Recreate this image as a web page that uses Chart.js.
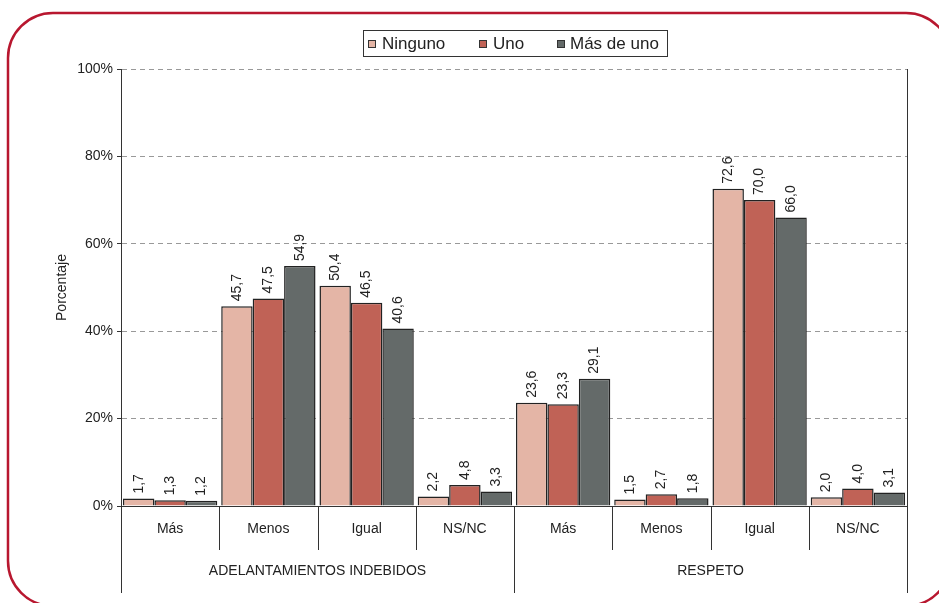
<!DOCTYPE html>
<html>
<head>
<meta charset="utf-8">
<script src="https://cdn.jsdelivr.net/npm/chart.js@4.4.0/dist/chart.umd.min.js"></script>
<style>
  html, body { margin: 0; padding: 0; background: #fff; }
  #wrap { position: relative; width: 939px; height: 603px; }
</style>
</head>
<body>
<div id="wrap"><canvas id="chart" width="939" height="603"></canvas></div>
<script>
const subCategories = ['Más', 'Menos', 'Igual', 'NS/NC', 'Más', 'Menos', 'Igual', 'NS/NC'];
const groups = ['ADELANTAMIENTOS INDEBIDOS', 'RESPETO'];
const seriesNames = ['Ninguno', 'Uno', 'Más de uno'];
const ninguno = [1.7, 45.7, 50.4, 2.2, 23.6, 1.5, 72.6, 2.0];
const uno = [1.3, 47.5, 46.5, 4.8, 23.3, 2.7, 70.0, 4.0];
const masDeUno = [1.2, 54.9, 40.6, 3.3, 29.1, 1.8, 66.0, 3.1];
const yTicks = [0, 20, 40, 60, 80, 100];

const colors = ['#e4b5a6', '#c06256', '#646a69'];
const FONT = '"Liberation Sans", Arial, Helvetica, sans-serif';
const TEXT = '#222';

// frame, legend, axis title, two-level category lines, value labels
const extras = {
  id: 'extras',
  afterDraw(chart) {
    const ctx = chart.ctx;
    const area = chart.chartArea;
    const xs = chart.scales.x;
    ctx.save();

    // rounded red frame (runs past the right and bottom edges)
    const fx = 8, fy = 13, fw = 943, fh = 593, r = 45;
    ctx.beginPath();
    ctx.moveTo(fx + r, fy);
    ctx.lineTo(fx + fw - r, fy);
    ctx.arcTo(fx + fw, fy, fx + fw, fy + r, r);
    ctx.lineTo(fx + fw, fy + fh - r);
    ctx.arcTo(fx + fw, fy + fh, fx + fw - r, fy + fh, r);
    ctx.lineTo(fx + r, fy + fh);
    ctx.arcTo(fx, fy + fh, fx, fy + fh - r, r);
    ctx.lineTo(fx, fy + r);
    ctx.arcTo(fx, fy, fx + r, fy, r);
    ctx.closePath();
    ctx.lineWidth = 2.5;
    ctx.strokeStyle = '#b8172f';
    ctx.stroke();

    // legend
    ctx.lineWidth = 1;
    ctx.strokeStyle = '#333';
    ctx.strokeRect(363.5, 30.5, 304, 26);
    const legendX = [[368, 382], [479, 493], [557, 570]];
    ctx.font = '17px ' + FONT;
    ctx.textBaseline = 'middle';
    ctx.textAlign = 'left';
    seriesNames.forEach((name, i) => {
      ctx.fillStyle = colors[i];
      ctx.fillRect(legendX[i][0], 40, 7, 7);
      ctx.strokeRect(legendX[i][0] + 0.5, 40.5, 7, 7);
      ctx.fillStyle = TEXT;
      ctx.fillText(name, legendX[i][1], 44);
    });

    // y axis title
    ctx.save();
    ctx.translate(62, (area.top + area.bottom) / 2);
    ctx.rotate(-Math.PI / 2);
    ctx.textAlign = 'center';
    ctx.font = '14px ' + FONT;
    ctx.fillText('Porcentaje', 0, 0);
    ctx.restore();

    // category separators
    const n = subCategories.length;
    const w = (area.right - area.left) / n;
    ctx.strokeStyle = '#333';
    ctx.lineWidth = 1;
    for (let i = 0; i <= n; i++) {
      const x = Math.round(area.left + i * w) + 0.5;
      const long = i % 4 === 0;
      ctx.beginPath();
      ctx.moveTo(x, i === n ? area.top : area.bottom);
      ctx.lineTo(x, long ? 593 : 550);
      ctx.stroke();
    }
    ctx.font = '14px ' + FONT;
    ctx.textAlign = 'center';
    ctx.fillStyle = TEXT;
    groups.forEach((g, i) => {
      const x0 = xs.getPixelForValue(i * 4) - w / 2;
      ctx.fillText(g, x0 + 2 * w, 571);
    });

    // value labels
    ctx.font = '14px ' + FONT;
    ctx.textAlign = 'left';
    ctx.textBaseline = 'middle';
    chart.data.datasets.forEach((ds, di) => {
      chart.getDatasetMeta(di).data.forEach((bar, i) => {
        const txt = ds.data[i].toFixed(1).replace('.', ',');
        ctx.save();
        ctx.translate(bar.x, bar.y - 5);
        ctx.rotate(-Math.PI / 2);
        ctx.fillText(txt, 0, 0);
        ctx.restore();
      });
    });

    ctx.restore();
  }
};

new Chart(document.getElementById('chart'), {
  type: 'bar',
  data: {
    labels: subCategories,
    datasets: [ninguno, uno, masDeUno].map((d, i) => ({
      label: seriesNames[i],
      data: d,
      backgroundColor: colors[i],
      borderColor: '#222',
      borderWidth: 1.5,
      categoryPercentage: 0.96,
      barPercentage: 1,
    })),
  },
  options: {
    responsive: false,
    animation: false,
    layout: { padding: { top: 69, right: 32, left: 0, bottom: 0 } },
    plugins: {
      legend: { display: false },
      tooltip: { enabled: false },
    },
    scales: {
      x: {
        grid: { display: false, drawTicks: false },
        border: { display: true, color: '#333', width: 1 },
        ticks: { color: TEXT, font: { family: FONT, size: 14 }, padding: 15, maxRotation: 0 },
        afterFit(scale) { scale.height = 97; },
      },
      y: {
        min: 0,
        max: 100,
        afterBuildTicks(scale) { scale.ticks = yTicks.map(v => ({ value: v })); },
        grid: { color: '#999', tickColor: '#333', tickLength: 4, tickBorderDash: [] },
        border: { display: true, color: '#333', width: 1, dash: [5, 4] },
        ticks: {
          color: TEXT,
          font: { family: FONT, size: 14 },
          padding: 4,
          callback: v => v + '%',
        },
        afterFit(scale) { scale.width = 121; },
      },
    },
  },
  plugins: [extras],
});
</script>
</body>
</html>
